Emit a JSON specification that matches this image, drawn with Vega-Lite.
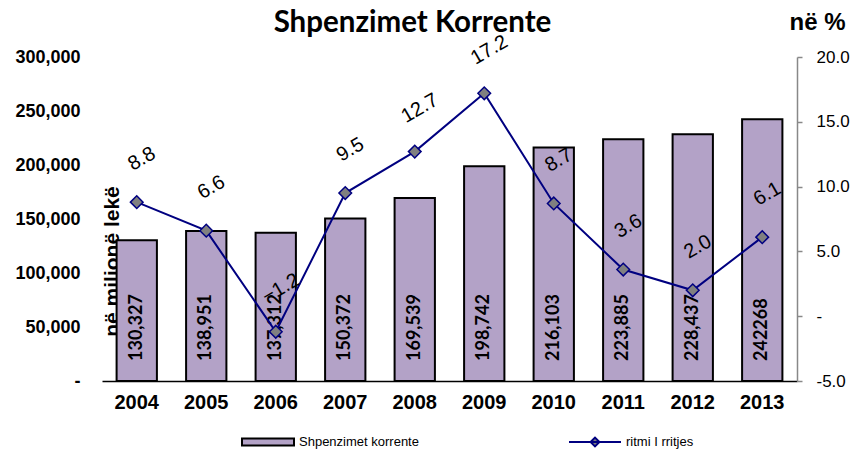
{
  "$schema": "https://vega.github.io/schema/vega-lite/v6.json",
  "width": 695,
  "height": 324,
  "autosize": "none",
  "padding": {"left": 102, "top": 57, "right": 57, "bottom": 72},
  "background": "white",
  "config": {"view": {"stroke": null}, "font": "Liberation Sans"},
  "title": {
    "text": "Shpenzimet Korrente",
    "font": "Lato",
    "fontSize": 29.5,
    "fontWeight": "bold",
    "color": "black",
    "anchor": "middle",
    "dx": -37,
    "dy": 32,
    "offset": 4
  },
  "data": {
    "values": [
      {"year": "2004", "spend": 130327, "label": "130,327", "growth": 8.8},
      {"year": "2005", "spend": 138951, "label": "138,951", "growth": 6.6},
      {"year": "2006", "spend": 137312, "label": "137,312", "growth": -1.2},
      {"year": "2007", "spend": 150372, "label": "150,372", "growth": 9.5},
      {"year": "2008", "spend": 169539, "label": "169,539", "growth": 12.7},
      {"year": "2009", "spend": 198742, "label": "198,742", "growth": 17.2},
      {"year": "2010", "spend": 216103, "label": "216,103", "growth": 8.7},
      {"year": "2011", "spend": 223885, "label": "223,885", "growth": 3.6},
      {"year": "2012", "spend": 228437, "label": "228,437", "growth": 2.0},
      {"year": "2013", "spend": 242268, "label": "242268", "growth": 6.1}
    ]
  },
  "encoding": {
    "x": {
      "field": "year",
      "type": "nominal",
      "scale": {"paddingInner": 0.42, "paddingOuter": 0.21},
      "axis": {
        "title": null,
        "labelAngle": 0,
        "labelFont": "Liberation Sans",
        "labelFontSize": 20,
        "labelFontWeight": "bold",
        "labelColor": "black",
        "ticks": false,
        "domain": true,
        "domainColor": "black",
        "domainWidth": 1.5,
        "labelPadding": 11
      }
    }
  },
  "layer": [
    {
      "layer": [
        {
          "mark": {"type": "bar", "stroke": "black", "strokeWidth": 2},
          "encoding": {
            "y": {
              "field": "spend",
              "type": "quantitative",
              "scale": {"domain": [0, 300000], "nice": false},
              "axis": {
                "orient": "left",
                "values": [0, 50000, 100000, 150000, 200000, 250000, 300000],
                "labelExpr": "datum.value == 0 ? '-' : format(datum.value, ',')",
                "encode": {"labels": {"update": {"dx": {"signal": "datum.value == 0 ? -11 : 0"}}}},
                "grid": false,
                "domain": false,
                "ticks": false,
                "labelPadding": 22,
                "labelFont": "Liberation Sans",
                "labelFontSize": 18,
                "labelFontWeight": "bold",
                "labelColor": "black",
                "title": "në milionë lekë",
                "titleFont": "Liberation Sans",
                "titleFontSize": 21,
                "titleFontWeight": "bold",
                "titleColor": "black",
                "titleAngle": 270,
                "titleX": 16,
                "titleY": 204,
                "titleAlign": "center",
                "titleBaseline": "alphabetic"
              }
            },
            "fill": {
              "datum": "Shpenzimet korrente",
              "scale": {"range": ["#B3A2C7"]},
              "legend": {
                "title": null,
                "orient": "none",
                "legendX": 139,
                "legendY": 358,
                "padding": 0,
                "symbolType": "M-1,-0.13H1V0.13H-1Z",
                "symbolSize": 2704,
                "symbolStrokeWidth": 2,
                "labelFont": "Liberation Sans",
                "labelFontSize": 13,
                "labelColor": "black",
                "labelOffset": 4,
                "encode": {"symbols": {"update": {"stroke": {"value": "black"}, "strokeWidth": {"value": 2}}}}
              }
            }
          }
        },
        {
          "mark": {"type": "text", "angle": 270, "align": "left", "baseline": "middle", "dx": 20, "font": "Lato", "fontSize": 18, "fontWeight": "bold", "fill": "black"},
          "encoding": {
            "y": {
              "datum": 0,
              "type": "quantitative",
              "scale": {"domain": [0, 300000], "nice": false},
              "axis": {
                "orient": "left",
                "values": [0, 50000, 100000, 150000, 200000, 250000, 300000],
                "labelExpr": "datum.value == 0 ? '-' : format(datum.value, ',')",
                "encode": {"labels": {"update": {"dx": {"signal": "datum.value == 0 ? -11 : 0"}}}},
                "grid": false,
                "domain": false,
                "ticks": false,
                "labelPadding": 22,
                "labelFont": "Liberation Sans",
                "labelFontSize": 18,
                "labelFontWeight": "bold",
                "labelColor": "black",
                "title": "në milionë lekë",
                "titleFont": "Liberation Sans",
                "titleFontSize": 21,
                "titleFontWeight": "bold",
                "titleColor": "black",
                "titleAngle": 270,
                "titleX": 16,
                "titleY": 204,
                "titleAlign": "center",
                "titleBaseline": "alphabetic"
              }
            },
            "text": {"field": "label"}
          }
        }
      ]
    },
    {
      "encoding": {
        "y": {
          "field": "growth",
          "type": "quantitative",
          "scale": {"domain": [-5, 20], "nice": false, "zero": false},
          "axis": {
            "orient": "right",
            "values": [-5, 0, 5, 10, 15, 20],
            "labelExpr": "datum.value == 0 ? '-' : (datum.value < 0 ? '-' + format(-datum.value, '.1f') : format(datum.value, '.1f'))",
            "grid": false,
            "domain": true,
            "domainColor": "#888888",
            "domainWidth": 1.5,
            "ticks": true,
            "tickColor": "#888888",
            "tickSize": 5,
            "tickWidth": 1.5,
            "labelPadding": 14,
            "labelFont": "Liberation Sans",
            "labelFontSize": 17,
            "labelColor": "black",
            "title": "në %",
            "titleFont": "Liberation Sans",
            "titleFontSize": 24,
            "titleFontWeight": "bold",
            "titleColor": "black",
            "titleAngle": 0,
            "titleX": 20,
            "titleY": -28,
            "titleAlign": "center",
            "titleBaseline": "alphabetic"
          }
        }
      },
      "layer": [
        {
          "mark": {"type": "line", "strokeWidth": 2},
          "encoding": {
            "stroke": {
              "datum": "ritmi I rritjes",
              "scale": {"range": ["#000080"]},
              "legend": {
                "title": null,
                "orient": "none",
                "legendX": 466,
                "legendY": 358,
                "padding": 0,
                "symbolType": "M-1,0H1M-0.17,0L0,-0.17L0.17,0L0,0.17Z",
                "symbolSize": 2704,
                "labelFont": "Liberation Sans",
                "labelFontSize": 13,
                "labelColor": "black",
                "labelOffset": 4,
                "encode": {"symbols": {"update": {"fill": {"value": "#808080"}, "stroke": {"value": "#000080"}, "strokeWidth": {"value": 2}}}}
              }
            }
          }
        },
        {
          "mark": {"type": "point", "shape": "diamond", "size": 160, "filled": true, "fill": "#808080", "stroke": "#000080", "strokeWidth": 1.5, "opacity": 1}
        },
        {
          "mark": {"type": "text", "angle": 330, "align": "center", "baseline": "middle", "dx": 26, "dy": -35, "font": "Liberation Sans", "fontSize": 20, "fill": "black"},
          "encoding": {"text": {"field": "growth", "type": "quantitative", "format": ".1f"}}
        }
      ]
    }
  ],
  "resolve": {"scale": {"y": "independent"}}
}
